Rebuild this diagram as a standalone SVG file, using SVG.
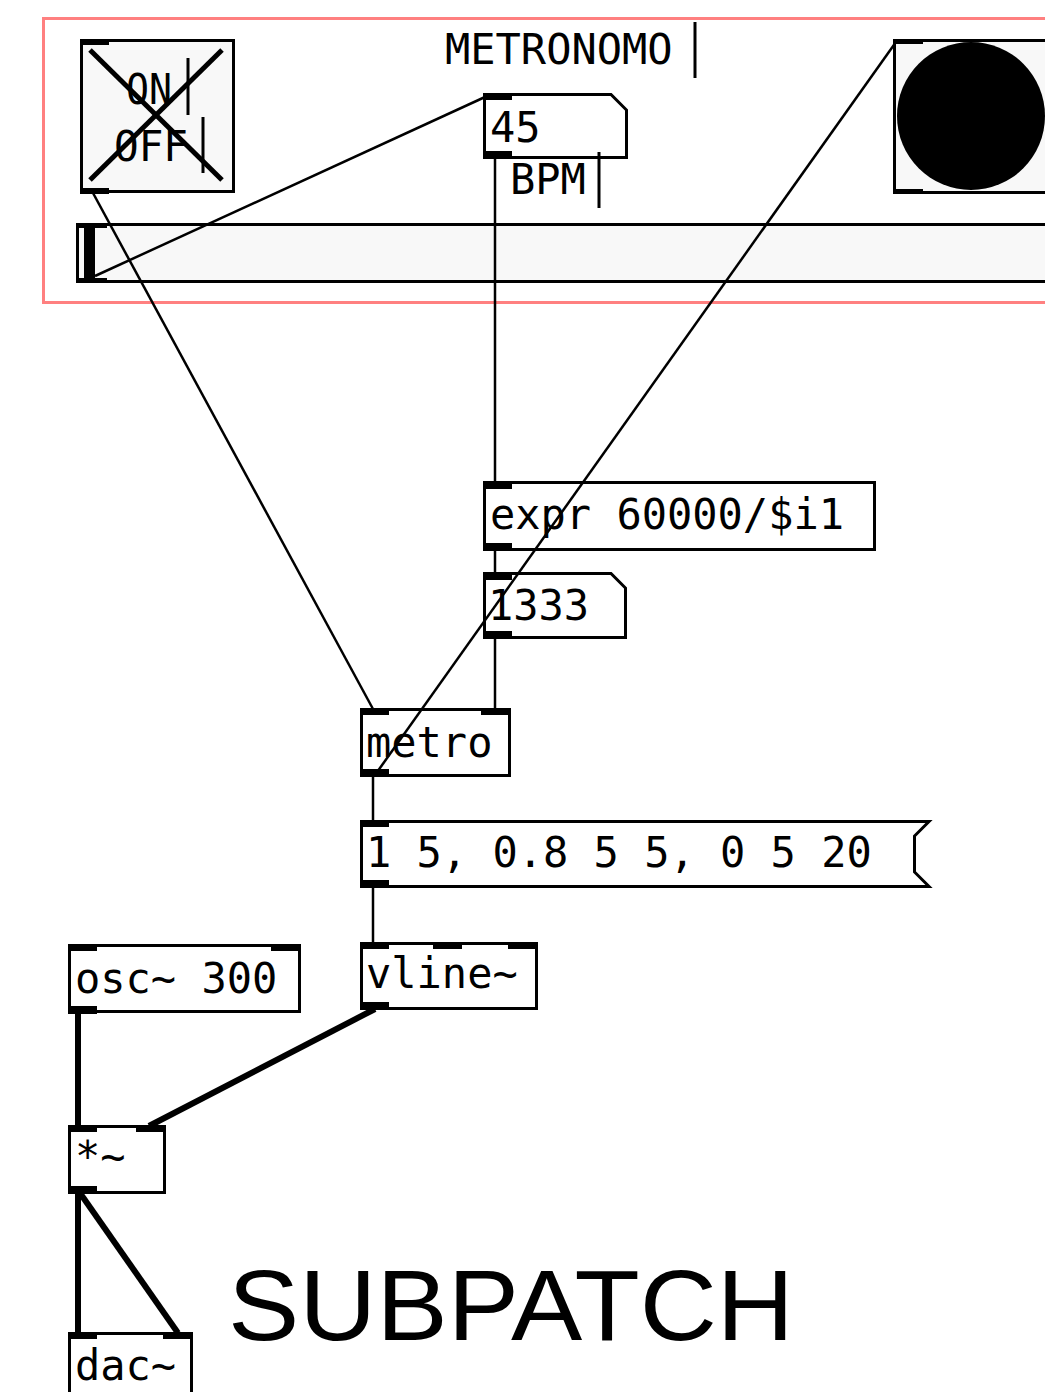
<svg xmlns="http://www.w3.org/2000/svg" width="1045" height="1392" viewBox="0 0 1045 1392">
<style>
.box{fill:#fff;stroke:#000;stroke-width:3}
.gui{fill:#f8f8f8;stroke:#000;stroke-width:3}
.io{fill:#000}
.t{font-family:"DejaVu Sans Mono",monospace;font-size:42px;fill:#000}
.cur{stroke:#000;stroke-width:3}
.c{stroke:#000;stroke-width:2.5;fill:none}
.s{stroke:#000;stroke-width:6;fill:none}
</style>
<rect width="1045" height="1392" fill="#fff"/>
<g id="frame"><rect x="43.5" y="18.5" width="1010" height="284" fill="none" stroke="#ff8080" stroke-width="3"/></g>
<g id="title"><text class="t" x="445" y="64" font-size="41">METRONOMO</text><line class="cur" x1="695" y1="22" x2="695" y2="78"/></g>
<g id="toggle">
<rect class="gui" x="81.5" y="40.5" width="152" height="151"/>
<line x1="90" y1="50" x2="222" y2="180" stroke="#000" stroke-width="5"/>
<line x1="222" y1="50" x2="90" y2="180" stroke="#000" stroke-width="5"/>
<rect class="io" x="80" y="39" width="29" height="6"/><rect class="io" x="80" y="188" width="29" height="6"/>
<text class="t" x="126" y="104" font-size="44" textLength="46" lengthAdjust="spacingAndGlyphs">ON</text>
<line class="cur" x1="188" y1="58" x2="188" y2="115"/>
<text class="t" x="114" y="161" font-size="44" textLength="74" lengthAdjust="spacingAndGlyphs">OFF</text>
<line class="cur" x1="203" y1="117" x2="203" y2="173"/>
</g>
<g id="slider">
<rect class="gui" x="77.5" y="224.5" width="1000" height="57"/>
<rect class="io" x="84" y="224" width="11" height="58"/>
<rect class="io" x="77" y="223" width="30" height="5"/><rect class="io" x="77" y="278" width="30" height="5"/>
</g>
<g id="bang">
<rect class="gui" x="894.5" y="40.5" width="200" height="152"/>
<circle cx="971" cy="116" r="74" fill="#000"/>
<rect class="io" x="893" y="39" width="30" height="5"/><rect class="io" x="893" y="189" width="30" height="5"/>
</g>
<g id="num45">
<path class="box" d="M484.5,94.5 H611 L626.5,110 V157.5 H484.5 Z"/>
<rect class="io" x="483" y="93" width="29" height="7"/><rect class="io" x="483" y="151" width="29" height="8"/>
<text class="t" x="490" y="142">45</text>
<text class="t" x="510" y="194">BPM</text>
<line class="cur" x1="599" y1="152" x2="599" y2="208"/>
</g>
<g id="expr">
<rect class="box" x="484.5" y="482.5" width="390" height="67"/>
<rect class="io" x="483" y="481" width="29" height="8"/><rect class="io" x="483" y="543" width="29" height="8"/>
<text class="t" x="490" y="529">expr 60000/$i1</text>
</g>
<g id="num1333">
<path class="box" d="M484.5,573.5 H611 L625.5,588 V637.5 H484.5 Z"/>
<rect class="io" x="483" y="572" width="29" height="8"/><rect class="io" x="483" y="631" width="29" height="8"/>
<text class="t" x="488" y="620">1333</text>
</g>
<g id="metro">
<rect class="box" x="361.5" y="709.5" width="148" height="66"/>
<rect class="io" x="360" y="708" width="29" height="7"/><rect class="io" x="481" y="708" width="29" height="7"/>
<rect class="io" x="360" y="769" width="29" height="8"/>
<text class="t" x="366" y="757">metro</text>
</g>
<g id="msg">
<path class="box" d="M361.5,821.5 H929 L914.5,836 V872 L929,886.5 H361.5 Z"/>
<rect class="io" x="360" y="820" width="29" height="7"/><rect class="io" x="360" y="880" width="29" height="8"/>
<text class="t" x="366" y="867">1 5, 0.8 5 5, 0 5 20</text>
</g>
<g id="vline">
<rect class="box" x="361.5" y="943.5" width="175" height="65"/>
<rect class="io" x="360" y="942" width="29" height="7"/><rect class="io" x="433" y="942" width="29" height="7"/><rect class="io" x="508" y="942" width="29" height="7"/>
<rect class="io" x="360" y="1002" width="29" height="8"/>
<text class="t" x="366" y="988">vline~</text>
</g>
<g id="osc">
<rect class="box" x="69.5" y="945.5" width="230" height="66"/>
<rect class="io" x="68" y="944" width="29" height="7"/><rect class="io" x="271" y="944" width="29" height="7"/>
<rect class="io" x="68" y="1006" width="29" height="8"/>
<text class="t" x="75" y="993">osc~ 300</text>
</g>
<g id="mul">
<rect class="box" x="69.5" y="1126.5" width="95" height="66"/>
<rect class="io" x="68" y="1125" width="29" height="7"/><rect class="io" x="136" y="1125" width="29" height="7"/>
<rect class="io" x="68" y="1186" width="29" height="8"/>
<text class="t" x="75" y="1171">*~</text>
</g>
<g id="dac">
<rect class="box" x="69.5" y="1333.5" width="122" height="70"/>
<rect class="io" x="68" y="1332" width="29" height="7"/><rect class="io" x="163" y="1332" width="29" height="7"/>
<text class="t" x="75" y="1380">dac~</text>
</g>
<g id="label"><text x="228" y="1340" font-family="Liberation Sans, Arial, sans-serif" font-size="101" textLength="566" lengthAdjust="spacingAndGlyphs">SUBPATCH</text></g>
<g id="connectors">
<line class="c" x1="95" y1="276" x2="485" y2="97"/>
<line class="c" x1="93" y1="193" x2="373" y2="709"/>
<line class="c" x1="375" y1="775" x2="896" y2="42"/>
<line class="c" x1="495" y1="158" x2="495" y2="482"/>
<line class="c" x1="495" y1="550" x2="495" y2="573"/>
<line class="c" x1="495" y1="638" x2="495" y2="709"/>
<line class="c" x1="373" y1="776" x2="373" y2="821"/>
<line class="c" x1="373" y1="887" x2="373" y2="943"/>
<line class="s" x1="375" y1="1009" x2="149" y2="1126"/>
<line class="s" x1="78" y1="1013" x2="78" y2="1126"/>
<line class="s" x1="78" y1="1193" x2="78" y2="1333"/>
<line class="s" x1="80" y1="1193" x2="178" y2="1333"/>
</g>
</svg>
